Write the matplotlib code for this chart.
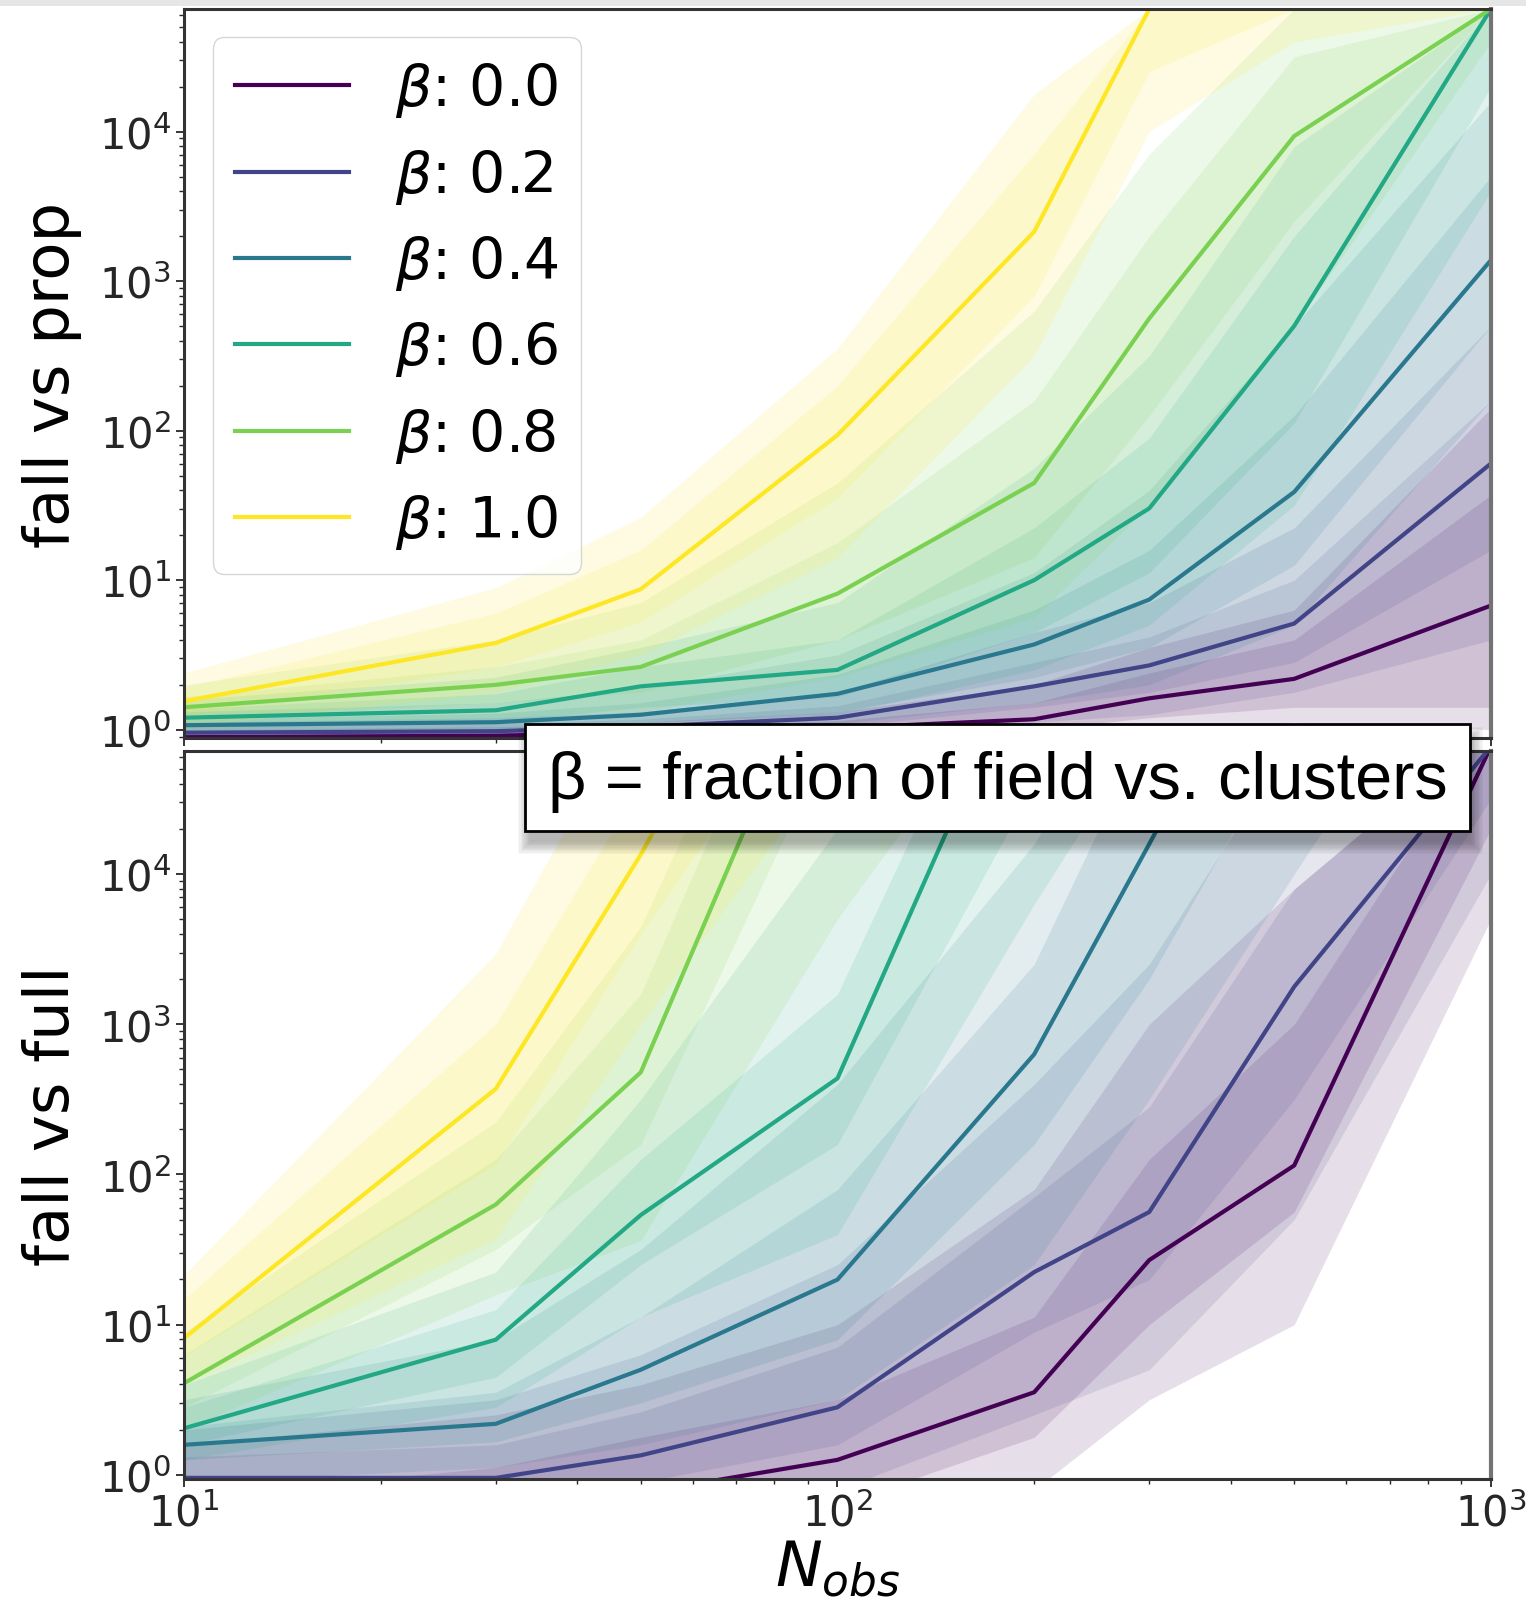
import numpy as np
import matplotlib.pyplot as plt
from matplotlib.patches import Rectangle

# x values and beta values
n_obs = [10, 30, 50, 100, 200, 300, 500, 1000]
betas = [0.0, 0.2, 0.4, 0.6, 0.8, 1.0]

# top panel (fall vs prop), log10 of the Bayes factor, one row per beta
prop_med = [
    [-0.05, -0.04, -0.02, 0.01, 0.07, 0.21, 0.34, 0.83],
    [-0.02, -0.01, 0.02, 0.08, 0.29, 0.43, 0.71, 1.78],
    [0.03, 0.05, 0.10, 0.24, 0.57, 0.87, 1.59, 3.14],
    [0.08, 0.13, 0.29, 0.40, 1.00, 1.48, 2.70, 4.82],
    [0.15, 0.30, 0.42, 0.91, 1.65, 2.75, 3.97, 4.82],
    [0.19, 0.58, 0.94, 1.97, 3.33, 4.82, 4.82, 4.82],
]
prop_in_lo = [
    [-0.07, -0.07, -0.05, -0.03, 0.00, 0.08, 0.15, 0.15],
    [-0.04, -0.04, -0.02, 0.02, 0.15, 0.25, 0.45, 1.20],
    [0.00, 0.01, 0.04, 0.12, 0.35, 0.55, 1.10, 2.70],
    [0.03, 0.05, 0.15, 0.22, 0.65, 1.05, 2.05, 4.30],
    [0.08, 0.18, 0.25, 0.60, 1.15, 2.10, 3.40, 4.82],
    [0.10, 0.42, 0.72, 1.55, 2.90, 4.40, 4.82, 4.82],
]
prop_in_hi = [
    [-0.02, 0.00, 0.02, 0.06, 0.18, 0.38, 0.60, 1.57],
    [0.02, 0.04, 0.07, 0.16, 0.45, 0.62, 1.00, 2.20],
    [0.07, 0.11, 0.18, 0.37, 0.80, 1.20, 2.10, 3.70],
    [0.14, 0.24, 0.42, 0.60, 1.35, 1.95, 3.30, 4.82],
    [0.22, 0.42, 0.60, 1.25, 2.20, 3.30, 4.50, 4.82],
    [0.28, 0.78, 1.20, 2.30, 3.85, 4.82, 4.82, 4.82],
]
prop_out_lo = [
    [-0.10, -0.10, -0.08, -0.06, -0.04, 0.00, 0.05, 0.00],
    [-0.06, -0.06, -0.05, -0.02, 0.05, 0.10, 0.25, 0.60],
    [-0.03, -0.03, -0.01, 0.04, 0.18, 0.30, 0.70, 2.20],
    [-0.02, 0.00, 0.05, 0.10, 0.40, 0.70, 1.50, 3.60],
    [0.00, 0.08, 0.12, 0.35, 0.75, 1.50, 2.70, 4.60],
    [0.02, 0.25, 0.50, 1.15, 2.50, 4.00, 4.60, 4.82],
]
prop_out_hi = [
    [0.00, 0.02, 0.05, 0.12, 0.30, 0.55, 0.80, 2.15],
    [0.05, 0.08, 0.12, 0.25, 0.65, 0.85, 1.35, 2.70],
    [0.12, 0.18, 0.28, 0.50, 1.05, 1.60, 2.70, 4.20],
    [0.20, 0.35, 0.55, 0.85, 1.75, 2.50, 3.90, 4.82],
    [0.30, 0.60, 0.85, 1.65, 2.80, 3.85, 4.82, 4.82],
    [0.38, 0.95, 1.42, 2.55, 4.25, 4.82, 4.82, 4.82],
]

# bottom panel (fall vs full)
full_med = [
    [-0.50, -0.30, -0.12, 0.10, 0.55, 1.43, 2.06, 4.85],
    [-0.02, -0.02, 0.13, 0.45, 1.35, 1.75, 3.25, 4.85],
    [0.20, 0.34, 0.70, 1.30, 2.80, 4.20, 6.00, 7.00],
    [0.31, 0.90, 1.73, 2.64, 5.60, 7.00, 7.50, 8.00],
    [0.61, 1.80, 2.68, 5.74, 7.00, 7.50, 8.00, 8.00],
    [0.91, 2.57, 4.13, 6.50, 7.50, 8.00, 8.00, 8.00],
]
full_in_lo = [
    [-0.90, -0.70, -0.50, -0.20, 0.25, 1.00, 1.75, 4.30],
    [-0.15, -0.15, -0.05, 0.20, 0.95, 1.30, 2.50, 4.50],
    [0.10, 0.22, 0.48, 0.90, 2.20, 3.30, 5.00, 6.50],
    [0.20, 0.65, 1.40, 2.20, 4.60, 6.00, 7.00, 7.50],
    [0.45, 1.50, 2.20, 5.00, 6.50, 7.00, 7.50, 7.50],
    [0.79, 2.07, 3.60, 5.50, 7.00, 7.50, 7.50, 7.50],
]
full_in_hi = [
    [-0.15, 0.05, 0.25, 0.50, 1.05, 2.10, 3.00, 5.00],
    [0.12, 0.20, 0.42, 0.85, 1.85, 2.45, 3.90, 5.00],
    [0.32, 0.55, 1.05, 1.90, 3.40, 5.00, 6.50, 7.50],
    [0.45, 1.10, 2.10, 3.20, 6.00, 7.50, 8.00, 8.00],
    [0.80, 2.10, 3.20, 6.20, 7.50, 8.00, 8.00, 8.00],
    [1.17, 3.00, 4.60, 7.00, 8.00, 8.50, 8.50, 8.50],
]
full_out_lo = [
    [-1.20, -1.00, -0.90, -0.60, -0.10, 0.50, 1.00, 3.70],
    [-0.40, -0.40, -0.30, -0.10, 0.40, 0.70, 1.70, 4.00],
    [-0.05, 0.05, 0.20, 0.50, 1.40, 2.50, 4.00, 6.00],
    [0.10, 0.45, 1.05, 1.60, 3.80, 5.00, 6.50, 7.00],
    [0.30, 1.20, 1.56, 3.70, 5.50, 6.50, 7.00, 7.00],
    [0.60, 1.57, 3.00, 4.80, 6.50, 7.00, 7.00, 7.00],
]
full_out_hi = [
    [0.20, 0.40, 0.60, 1.00, 1.90, 3.00, 3.90, 5.00],
    [0.30, 0.50, 0.80, 1.40, 2.60, 3.40, 4.90, 5.00],
    [0.50, 0.90, 1.50, 2.60, 4.20, 5.50, 7.00, 8.00],
    [0.60, 1.35, 2.50, 4.30, 6.50, 8.00, 8.00, 8.00],
    [0.95, 2.35, 3.65, 6.50, 8.00, 8.00, 8.00, 8.00],
    [1.33, 3.47, 5.20, 7.50, 8.50, 9.00, 9.00, 9.00],
]

colors = plt.cm.viridis(np.linspace(0, 1, len(betas)))

fig = plt.figure(figsize=(15.26, 16.06), dpi=100)
ax_top = fig.add_axes([0.1206, 0.5399, 0.8564, 0.4539])
ax_bot = fig.add_axes([0.1206, 0.0785, 0.8564, 0.4533], sharex=ax_top)


def draw_panel(ax, med, in_lo, in_hi, out_lo, out_hi):
    for i, b in enumerate(betas):
        ax.fill_between(n_obs, 10 ** np.array(out_lo[i]), 10 ** np.array(out_hi[i]),
                        color=colors[i], alpha=0.13, linewidth=0)
        ax.fill_between(n_obs, 10 ** np.array(in_lo[i]), 10 ** np.array(in_hi[i]),
                        color=colors[i], alpha=0.13, linewidth=0)
    for i, b in enumerate(betas):
        ax.plot(n_obs, 10 ** np.array(med[i]), color=colors[i], linewidth=3,
                label=r"$\beta$: %.1f" % b)
    ax.set_xscale("log")
    ax.set_yscale("log")
    ax.set_xlim(10, 1000)
    ax.tick_params(which="major", labelsize=30, length=6, width=1.3, colors="0.15")
    ax.tick_params(which="minor", length=3.5, width=1.0, colors="0.15")
    for sp in ax.spines.values():
        sp.set_linewidth(2.2)
        sp.set_color("0.2")
    ax.spines["right"].set_color("0.45")
    ax.spines["right"].set_linewidth(3)


draw_panel(ax_top, prop_med, prop_in_lo, prop_in_hi, prop_out_lo, prop_out_hi)
draw_panel(ax_bot, full_med, full_in_lo, full_in_hi, full_out_lo, full_out_hi)

ax_top.set_ylim(10 ** -0.055, 10 ** 4.82)
ax_bot.set_ylim(10 ** -0.027, 10 ** 4.82)
ax_top.tick_params(axis="x", labelbottom=False)

ax_top.set_ylabel("fall vs prop", fontsize=45)
ax_bot.set_ylabel("fall vs full", fontsize=45)
ax_top.yaxis.set_label_coords(-0.078, 0.5)
ax_bot.yaxis.set_label_coords(-0.078, 0.5)
ax_bot.set_xlabel(r"$N_{obs}$", fontsize=45, labelpad=2)

ax_top.legend(loc="upper left", fontsize=41, labelspacing=0.48)

# light grey strip above the top panel
fig.add_artist(Rectangle((0, 1 - 7 / 1606), 1, 7 / 1606, transform=fig.transFigure,
                         facecolor="#e6e6e6", edgecolor="none", zorder=5))

# annotation box with drop shadow
bx, by, bw, bh = 0.344, 0.4819, 0.6193, 0.0667
for k in range(10):
    grow = (k + 1) * 1.3
    fig.add_artist(Rectangle((bx + (6 - grow) / 1526, by - (10 + grow) / 1606),
                             bw + (2 * grow - 6) / 1526, bh + (2 * grow - 6) / 1606,
                             transform=fig.transFigure, facecolor="black",
                             edgecolor="none", alpha=0.03, zorder=9))
fig.add_artist(Rectangle((bx, by), bw, bh, transform=fig.transFigure,
                         facecolor="white", edgecolor="black", linewidth=2, zorder=10))
fig.text(bx + bw / 2, by + bh / 2 - 0.002, "\u03b2 = fraction of field vs. clusters",
         ha="center", va="center", fontsize=48,
         family=["Liberation Sans", "DejaVu Sans"], zorder=11)

plt.savefig("out.png", dpi=100)
